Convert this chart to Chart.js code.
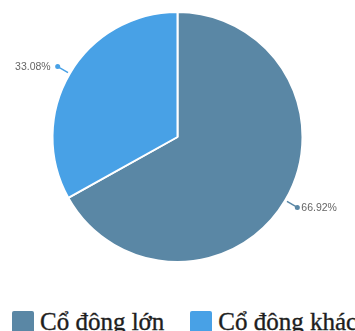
<!DOCTYPE html>
<html lang="vi">

<head>
    <meta charset="UTF-8">
    <meta name="viewport" content="width=device-width, initial-scale=1.0">
    <title>Cơ cấu cổ đông</title>
    <script src="https://cdnjs.cloudflare.com/ajax/libs/Chart.js/4.4.1/chart.umd.min.js"></script>
    <style>
        body {
            margin: 0;
            background: #fff;
            overflow: hidden;
        }

        .chart-container {
            position: relative;
            width: 355px;
            height: 274px;
        }

        .legend {
            display: flex;
            align-items: center;
            margin-top: 34px;
            padding-left: 12px;
            white-space: nowrap;
            font-family: "Liberation Serif", "DejaVu Serif", serif;
            font-size: 25px;
            color: #1e1e1e;
            -webkit-text-stroke: 0.35px #1e1e1e;
        }

        .legend-item {
            display: flex;
            align-items: center;
            margin-right: 26px;
        }

        .legend-box {
            width: 22px;
            height: 22px;
            margin-right: 6px;
            border-radius: 2px;
        }
    </style>
</head>

<body>
    <div class="chart-container">
        <canvas id="shareChart"></canvas>
    </div>
    <div class="legend" id="legend"></div>

    <script>
        // Data
        const labels = ['Cổ đông lớn', 'Cổ đông khác'];
        const shares = [66.92, 33.08];
        const colors = ['#5a87a5', '#48a1e6'];

        // Percent labels outside each slice, with a short leader line and dot
        const outsideLabels = {
            id: 'outsideLabels',
            afterDatasetsDraw(chart) {
                const ctx = chart.ctx;
                const meta = chart.getDatasetMeta(0);
                ctx.save();
                ctx.font = '10.5px "Liberation Sans", Arial, sans-serif';
                ctx.textBaseline = 'middle';
                meta.data.forEach((arc, i) => {
                    const { x, y, startAngle, endAngle, outerRadius } = arc.getProps(['x', 'y', 'startAngle', 'endAngle', 'outerRadius'], true);
                    const mid = (startAngle + endAngle) / 2;
                    const cos = Math.cos(mid);
                    const sin = Math.sin(mid);
                    const x1 = x + cos * (outerRadius + 2);
                    const y1 = y + sin * (outerRadius + 2);
                    const x2 = x + cos * (outerRadius + 14);
                    const y2 = y + sin * (outerRadius + 14);

                    ctx.strokeStyle = colors[i];
                    ctx.lineWidth = 1.5;
                    ctx.beginPath();
                    ctx.moveTo(x1, y1);
                    ctx.lineTo(x2, y2);
                    ctx.stroke();

                    ctx.fillStyle = colors[i];
                    ctx.beginPath();
                    ctx.arc(x2, y2, 2.5, 0, Math.PI * 2);
                    ctx.fill();

                    const left = cos < 0;
                    ctx.textAlign = left ? 'right' : 'left';
                    ctx.fillStyle = '#666';
                    ctx.fillText(shares[i].toFixed(2) + '%', x2 + (left ? -7 : 4), y2 + 1);
                });
                ctx.restore();
            }
        };

        new Chart(document.getElementById('shareChart'), {
            type: 'pie',
            data: {
                labels: labels,
                datasets: [{
                    data: shares,
                    backgroundColor: colors,
                    borderColor: '#fff',
                    borderWidth: 2
                }]
            },
            options: {
                responsive: true,
                maintainAspectRatio: false,
                animation: false,
                radius: 125,
                layout: { padding: 0 },
                plugins: {
                    legend: { display: false },
                    tooltip: { enabled: false }
                }
            },
            plugins: [outsideLabels]
        });

        // Legend
        const legend = document.getElementById('legend');
        labels.forEach((label, i) => {
            const item = document.createElement('div');
            item.className = 'legend-item';
            item.innerHTML = `<span class="legend-box" style="background:${colors[i]}"></span>${label}`;
            legend.appendChild(item);
        });
    </script>
</body>

</html>
